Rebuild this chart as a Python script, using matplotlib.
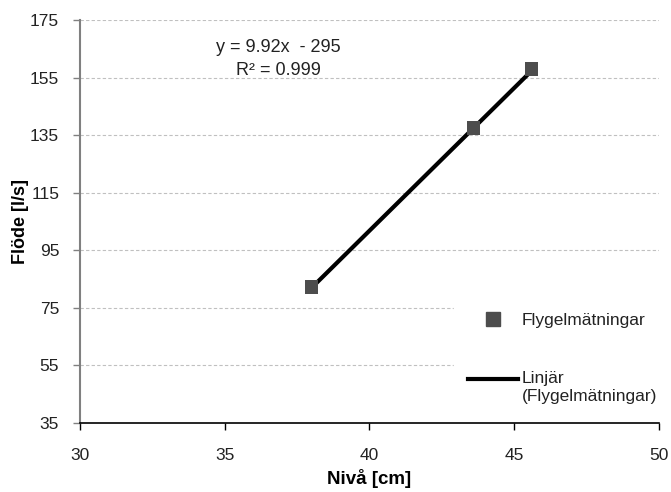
import numpy as np
import matplotlib.pyplot as plt
from matplotlib.lines import Line2D
from matplotlib.legend_handler import HandlerLine2D

plt.rcParams['font.family'] = ['Liberation Sans', 'DejaVu Sans']

# Flygelmätningar (nivå i cm, flöde i l/s)
niva = [38.0, 43.6, 45.6]
flode = [82.2, 137.5, 158.0]

# linjär trendlinje
slope = 9.92
intercept = -295
r2 = 0.999

x_ticks = [30, 35, 40, 45, 50]
y_ticks = [35, 55, 75, 95, 115, 135, 155, 175]


class RaisedLineHandler(HandlerLine2D):
    # legend line drawn level with the first row of a two-row label
    def create_artists(self, legend, orig_handle, xdescent, ydescent,
                       width, height, fontsize, trans):
        artists = super().create_artists(legend, orig_handle, xdescent,
                                         ydescent, width, height, fontsize,
                                         trans)
        for a in artists:
            a.set_ydata(np.asarray(a.get_ydata()) + 6)
        return artists


fig = plt.figure(figsize=(6.71, 4.92), dpi=100)
ax = fig.add_axes([0.1192, 0.1402, 0.8628, 0.8191])

x_fit = np.array([min(niva), max(niva)])
ax.plot(x_fit, slope * x_fit + intercept, color='black', lw=3, zorder=3,
        solid_capstyle='butt')
ax.scatter(niva, flode, marker='s', s=95, color='#4d4d4d', zorder=4,
           edgecolors='none')

ax.set_xlim(30, 50)
ax.set_ylim(35, 175)
ax.set_xticks(x_ticks)
ax.set_yticks(y_ticks)
ax.tick_params(labelsize=12.5, colors='black', length=5, width=1,
               direction='out')
ax.tick_params(axis='y', color='#808080', pad=10)
ax.tick_params(axis='x', pad=13)
for lbl in ax.get_xticklabels() + ax.get_yticklabels():
    lbl.set_color('#222222')

ax.grid(axis='y', color='#c0c0c0', ls=(0, (3, 2)), lw=0.8)
ax.set_axisbelow(True)
for side in ['top', 'right']:
    ax.spines[side].set_visible(False)
ax.spines['left'].set_color('#808080')
ax.spines['left'].set_linewidth(1.5)
ax.spines['bottom'].set_color('black')
ax.spines['bottom'].set_linewidth(1.2)

ax.set_xlabel('Nivå [cm]', fontsize=13.5, fontweight='bold', labelpad=4)
ax.set_ylabel('Flöde [l/s]', fontsize=13, fontweight='bold', labelpad=1)

sign = '-' if intercept < 0 else '+'
ax.text(36.85, 161.6, f'y = {slope:.2f}x  {sign} {abs(intercept)}\nR² = {r2}',
        ha='center', va='center', fontsize=13,
        color='#222222', linespacing=1.45)

marker_handle = Line2D([], [], marker='s', ls='none', color='#4d4d4d',
                       markersize=10)
line_handle = Line2D([], [], color='black', lw=3)
leg = ax.legend([marker_handle, line_handle],
                ['Flygelmätningar', 'Linjär\n(Flygelmätningar)'],
                handler_map={line_handle: RaisedLineHandler()},
                loc='upper left', bbox_to_anchor=(0.631, 0.33),
                frameon=True, fancybox=False, framealpha=1, edgecolor='white',
                fontsize=12.5, handlelength=2.9, handletextpad=0.2,
                labelspacing=2.5, borderpad=0.8)
for t in leg.get_texts():
    t.set_color('#222222')
    t.set_linespacing(1.25)

fig.savefig('out.png', dpi=100)
